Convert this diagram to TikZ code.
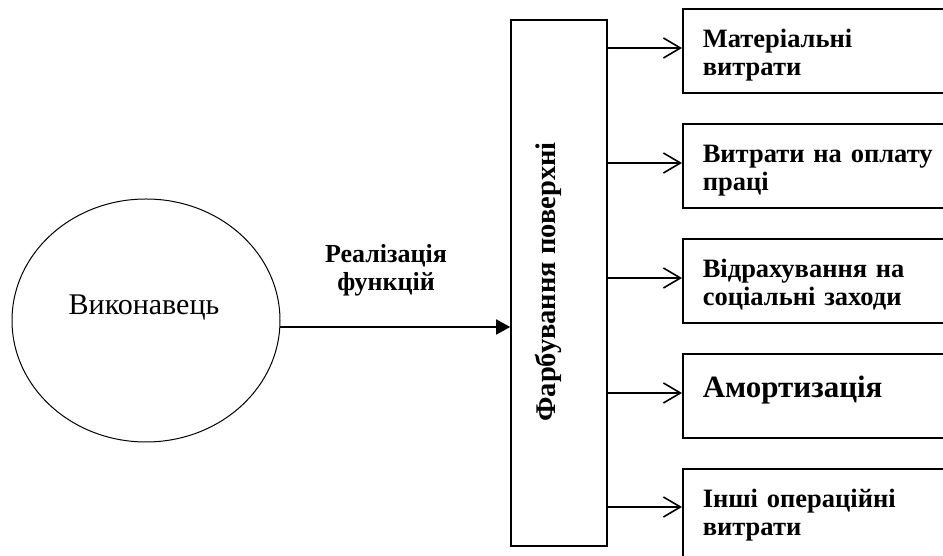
\documentclass[tikz,border=0pt]{standalone}
\usepackage{fontspec}
\setmainfont{Liberation Serif}[BoldFont={Liberation Serif Bold}]
\usetikzlibrary{shapes.geometric,arrows.meta}
\begin{document}
\begin{tikzpicture}[x=1pt,y=1pt,
   costbox/.style={draw,line width=1.6pt,anchor=north west,text width=260pt,align=left,
      inner xsep=20pt,inner ysep=15pt,text height=24pt,text depth=30pt,
      font=\fontsize{26.5}{28}\selectfont\bfseries},
   outarr/.style={-{Straight Barb[length=17pt,width=20pt]},line width=1.6pt},
   inarr/.style={-{Triangle[length=14pt,width=15pt]},line width=1.6pt}]
   \useasboundingbox (0,0) rectangle (943,556);

   % executor
   \node[ellipse,draw,line width=1pt,minimum width=268pt,minimum height=243pt] (vyk) at (146,235.5) {};
   \node[font=\fontsize{30}{36}\selectfont] (vyklab) at (144,248) {Виконавець};

   % operation
   \node[draw,line width=1.6pt,minimum width=96pt,minimum height=526pt] (fb) at (559,273) {};
   \node[rotate=90,anchor=base,font=\fontsize{28.5}{34}\selectfont\bfseries] (fblab) at (555,274) {Фарбування поверхні};

   \coordinate (vykout) at (280,229);
   \draw[inarr] (vykout) -- (fb.west |- vykout);
   \node[align=center,font=\fontsize{26}{28}\selectfont\bfseries] (realiz) at (386,285.5) {Реалізація\\функцій};

   % costs
   \node[costbox] (c1) at (682,548) {Матеріальні\\витрати};
   \node[costbox] (c2) at (682,433) {Витрати на оплату\\праці};
   \node[costbox] (c3) at (682,318) {Відрахування на\\соціальні заходи};
   \node[costbox,text height=29pt,text depth=25pt,font=\fontsize{31}{34}\selectfont\bfseries] (c4) at (682,203) {Амортизація};
   \node[costbox,text depth=60pt] (c5) at (682,88) {Інші операційні\\витрати};

   \path (c1.north west) ++(0,-40) coordinate (c1in);
   \path (c2.north west) ++(0,-40) coordinate (c2in);
   \path (c3.north west) ++(0,-40) coordinate (c3in);
   \path (c4.north west) ++(0,-40) coordinate (c4in);
   \path (c5.north west) ++(0,-39) coordinate (c5in);

   \draw[outarr] (fb.east |- c1in) -- (c1in);
   \draw[outarr] (fb.east |- c2in) -- (c2in);
   \draw[outarr] (fb.east |- c3in) -- (c3in);
   \draw[outarr] (fb.east |- c4in) -- (c4in);
   \draw[outarr] (fb.east |- c5in) -- (c5in);
\end{tikzpicture}
\end{document}
